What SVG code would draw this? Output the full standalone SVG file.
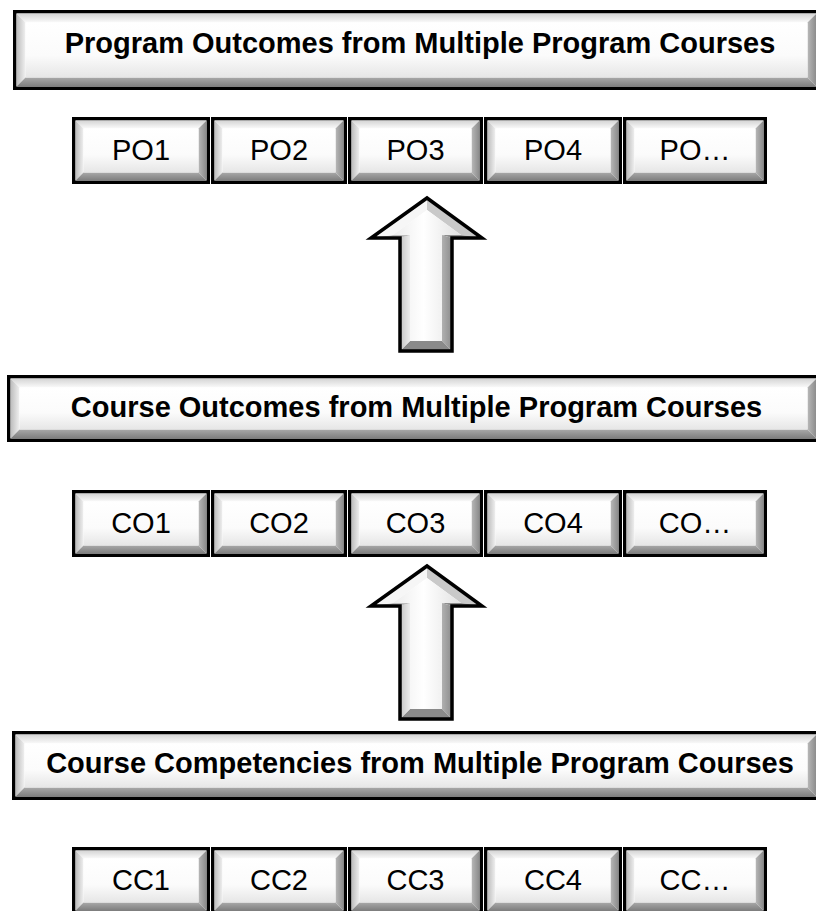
<svg xmlns="http://www.w3.org/2000/svg" xmlns:xlink="http://www.w3.org/1999/xlink" width="816" height="911" viewBox="0 0 816 911">
<style>
.edge{fill:#fff;stroke:#000;stroke-width:3.5}
.bt{fill:url(#gTop)}
.bl{fill:url(#gLeft)}
.br{fill:url(#gRight)}
.bb{fill:url(#gBottom)}
.face{fill:url(#gFace)}
.title{font-family:"Liberation Sans",Arial,sans-serif;font-weight:bold;font-size:29px;fill:#000;text-anchor:middle}
.lbl{font-family:"Liberation Sans",Arial,sans-serif;font-size:29px;fill:#000;text-anchor:middle}
.outline{fill:none;stroke:#000;stroke-width:3.5;stroke-linejoin:miter}
</style>
<defs>
<linearGradient id="gTop" x1="0" y1="0" x2="0" y2="1"><stop offset="0" stop-color="#d4d4d4"/><stop offset="1" stop-color="#fafafa"/></linearGradient>
<linearGradient id="gLeft" x1="0" y1="0" x2="1" y2="0"><stop offset="0" stop-color="#bcbcbc"/><stop offset="1" stop-color="#f0f0f0"/></linearGradient>
<linearGradient id="gRight" x1="0" y1="0" x2="1" y2="0"><stop offset="0" stop-color="#b8b8b8"/><stop offset="1" stop-color="#8a8a8a"/></linearGradient>
<linearGradient id="gBottom" x1="0" y1="0" x2="0" y2="1"><stop offset="0" stop-color="#a8a8a8"/><stop offset="1" stop-color="#7e7e7e"/></linearGradient>
<linearGradient id="gFace" x1="0" y1="0" x2="0" y2="1"><stop offset="0" stop-color="#ffffff"/><stop offset="0.6" stop-color="#fbfbfb"/><stop offset="1" stop-color="#e6e6e6"/></linearGradient>
<linearGradient id="gArrowFace" x1="0" y1="0" x2="1" y2="0"><stop offset="0" stop-color="#ececec"/><stop offset="0.45" stop-color="#ffffff"/><stop offset="1" stop-color="#e2e2e2"/></linearGradient>
<linearGradient id="gShaftL" x1="0" y1="0" x2="1" y2="0"><stop offset="0" stop-color="#c4c4c4"/><stop offset="1" stop-color="#ececec"/></linearGradient>
<linearGradient id="gShaftR" x1="0" y1="0" x2="1" y2="0"><stop offset="0" stop-color="#b0b0b0"/><stop offset="1" stop-color="#8c8c8c"/></linearGradient>

<polygon id="leftBevel" class="bl" points="3.5,3.5 11.5,11.5 11.5,55.5 3.5,63.5"/>
<g id="b138">
<rect class="edge" x="1.75" y="1.75" width="134.5" height="63.5"/>
<polygon class="bt" points="3.5,3.5 134.5,3.5 126.5,11.5 11.5,11.5"/>
<use xlink:href="#leftBevel" href="#leftBevel"/>
<polygon class="br" points="126.5,11.5 134.5,3.5 134.5,63.5 126.5,55.5"/>
<polygon class="bb" points="3.5,63.5 11.5,55.5 126.5,55.5 134.5,63.5"/>
<rect class="face" x="11.5" y="11.5" width="115" height="44"/>
</g>
<g id="b136">
<rect class="edge" x="1.75" y="1.75" width="132.5" height="63.5"/>
<polygon class="bt" points="3.5,3.5 132.5,3.5 124.5,11.5 11.5,11.5"/>
<use xlink:href="#leftBevel" href="#leftBevel"/>
<polygon class="br" points="124.5,11.5 132.5,3.5 132.5,63.5 124.5,55.5"/>
<polygon class="bb" points="3.5,63.5 11.5,55.5 124.5,55.5 132.5,63.5"/>
<rect class="face" x="11.5" y="11.5" width="113" height="44"/>
</g>
<g id="b135">
<rect class="edge" x="1.75" y="1.75" width="131.5" height="63.5"/>
<polygon class="bt" points="3.5,3.5 131.5,3.5 123.5,11.5 11.5,11.5"/>
<use xlink:href="#leftBevel" href="#leftBevel"/>
<polygon class="br" points="123.5,11.5 131.5,3.5 131.5,63.5 123.5,55.5"/>
<polygon class="bb" points="3.5,63.5 11.5,55.5 123.5,55.5 131.5,63.5"/>
<rect class="face" x="11.5" y="11.5" width="112" height="44"/>
</g>
<g id="b144">
<rect class="edge" x="1.75" y="1.75" width="140.5" height="63.5"/>
<polygon class="bt" points="3.5,3.5 140.5,3.5 132.5,11.5 11.5,11.5"/>
<use xlink:href="#leftBevel" href="#leftBevel"/>
<polygon class="br" points="132.5,11.5 140.5,3.5 140.5,63.5 132.5,55.5"/>
<polygon class="bb" points="3.5,63.5 11.5,55.5 132.5,55.5 140.5,63.5"/>
<rect class="face" x="11.5" y="11.5" width="121" height="44"/>
</g>

<g id="bigArrow">
<polygon fill="#c9c9c9" points="427,198 482,238 461,235 427,210"/>
<polygon fill="#8e8e8e" points="482,238 452,238 442,235 461,235"/>
<polygon fill="url(#gShaftR)" points="442,235 452,238 452,351 442,341"/>
<polygon fill="#8a8a8a" points="452,351 400,351 410,341 442,341"/>
<polygon fill="url(#gShaftL)" points="400,351 400,238 410,235 410,341"/>
<polygon fill="#bdbdbd" points="400,238 371,238 393,235 410,235"/>
<polygon fill="#f6f6f6" points="371,238 427,198 427,210 393,235"/>
<polygon fill="url(#gArrowFace)" points="427,210 461,235 442,235 442,341 410,341 410,235 393,235"/>
<polygon class="outline" points="427,198 482,238 452,238 452,351 400,351 400,238 371,238"/>
</g>
</defs>

<rect x="0" y="0" width="816" height="911" fill="#fff"/>

<g id="title-po">
<rect class="edge" x="14.75" y="11.75" width="803.5" height="76.5"/>
<polygon class="bt" points="16.5,13.5 816.5,13.5 807.5,22.5 25.5,22.5"/>
<polygon class="bl" points="16.5,13.5 25.5,22.5 25.5,77.5 16.5,86.5"/>
<polygon class="br" points="807.5,22.5 816.5,13.5 816.5,86.5 807.5,77.5"/>
<polygon class="bb" points="16.5,86.5 25.5,77.5 807.5,77.5 816.5,86.5"/>
<rect class="face" x="25.5" y="22.5" width="782" height="55"/>
<text class="title" x="420" y="53">Program Outcomes from Multiple Program Courses</text>
</g>

<g id="po1"><use xlink:href="#b138" href="#b138" x="72" y="117"/><text class="lbl" x="141" y="160">PO1</text></g>
<g id="po2"><use xlink:href="#b136" href="#b136" x="211" y="117"/><text class="lbl" x="279" y="160">PO2</text></g>
<g id="po3"><use xlink:href="#b135" href="#b135" x="348" y="117"/><text class="lbl" x="415.5" y="160">PO3</text></g>
<g id="po4"><use xlink:href="#b138" href="#b138" x="484" y="117"/><text class="lbl" x="553" y="160">PO4</text></g>
<g id="po5"><use xlink:href="#b144" href="#b144" x="623" y="117"/><text class="lbl" x="695" y="160">PO…</text></g>

<g id="title-co">
<rect class="edge" x="8.75" y="376.75" width="809.5" height="63.5"/>
<polygon class="bt" points="10.5,378.5 816.5,378.5 807.5,387.5 19.5,387.5"/>
<polygon class="bl" points="10.5,378.5 19.5,387.5 19.5,429.5 10.5,438.5"/>
<polygon class="br" points="807.5,387.5 816.5,378.5 816.5,438.5 807.5,429.5"/>
<polygon class="bb" points="10.5,438.5 19.5,429.5 807.5,429.5 816.5,438.5"/>
<rect class="face" x="19.5" y="387.5" width="788" height="42"/>
<text class="title" x="416.5" y="417">Course Outcomes from Multiple Program Courses</text>
</g>

<g id="co1"><use xlink:href="#b138" href="#b138" x="72" y="490"/><text class="lbl" x="141" y="533">CO1</text></g>
<g id="co2"><use xlink:href="#b136" href="#b136" x="211" y="490"/><text class="lbl" x="279" y="533">CO2</text></g>
<g id="co3"><use xlink:href="#b135" href="#b135" x="348" y="490"/><text class="lbl" x="415.5" y="533">CO3</text></g>
<g id="co4"><use xlink:href="#b138" href="#b138" x="484" y="490"/><text class="lbl" x="553" y="533">CO4</text></g>
<g id="co5"><use xlink:href="#b144" href="#b144" x="623" y="490"/><text class="lbl" x="695" y="533">CO…</text></g>

<g id="title-cc">
<rect class="edge" x="13.75" y="732.75" width="804.5" height="65.5"/>
<polygon class="bt" points="15.5,734.5 816.5,734.5 807.5,743.5 24.5,743.5"/>
<polygon class="bl" points="15.5,734.5 24.5,743.5 24.5,787.5 15.5,796.5"/>
<polygon class="br" points="807.5,743.5 816.5,734.5 816.5,796.5 807.5,787.5"/>
<polygon class="bb" points="15.5,796.5 24.5,787.5 807.5,787.5 816.5,796.5"/>
<rect class="face" x="24.5" y="743.5" width="783" height="44"/>
<text class="title" x="420" y="773">Course Competencies from Multiple Program Courses</text>
</g>

<g id="cc1"><use xlink:href="#b138" href="#b138" x="72" y="847"/><text class="lbl" x="141" y="890">CC1</text></g>
<g id="cc2"><use xlink:href="#b136" href="#b136" x="211" y="847"/><text class="lbl" x="279" y="890">CC2</text></g>
<g id="cc3"><use xlink:href="#b135" href="#b135" x="348" y="847"/><text class="lbl" x="415.5" y="890">CC3</text></g>
<g id="cc4"><use xlink:href="#b138" href="#b138" x="484" y="847"/><text class="lbl" x="553" y="890">CC4</text></g>
<g id="cc5"><use xlink:href="#b144" href="#b144" x="623" y="847"/><text class="lbl" x="695" y="890">CC…</text></g>

<g id="connectors">
<use xlink:href="#bigArrow" href="#bigArrow"/>
<use xlink:href="#bigArrow" href="#bigArrow" y="368"/>
</g>
</svg>
